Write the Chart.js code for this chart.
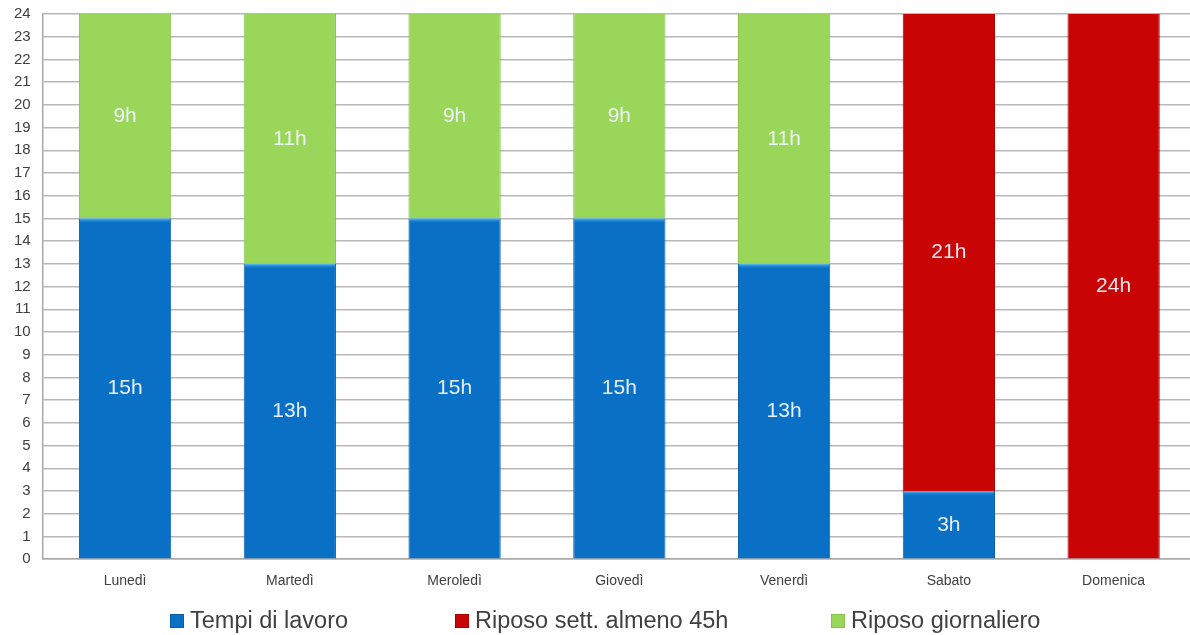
<!DOCTYPE html>
<html>
<head>
<meta charset="utf-8">
<script src="https://cdn.jsdelivr.net/npm/chart.js@4"></script>
<style>
html,body{margin:0;padding:0;background:#fff;overflow:hidden;width:1190px;height:635px;}
#wrap{position:absolute;left:0;top:0;width:1196px;height:635px;}
</style>
</head>
<body>
<div id="wrap"><canvas id="c"></canvas></div>
<script>
const categories = ['Lunedì','Martedì','Meroledì','Giovedì','Venerdì','Sabato','Domenica'];
const tempiLavoro = [15,13,15,15,13,3,0];
const riposoSett = [0,0,0,0,0,21,24];
const riposoGiorn = [9,11,9,9,11,0,0];
const seriesNames = ['Tempi di lavoro','Riposo sett. almeno 45h','Riposo giornaliero'];
const yTicks = Array.from({length:25},(_,i)=>i);

const COLORS = ['#0a70c6','#c80404','#9ad65a'];
const EDGES = ['#0a5ea8','#a80000','#86bf4a'];
const FONT = '"Liberation Sans", Arial, sans-serif';
const LEGEND_X = [170, 455, 831];

const labelPlugin = {
  id:'segLabels',
  afterDatasetsDraw(chart){
    const ctx = chart.ctx;
    ctx.save();
    chart.data.datasets.forEach((ds, di)=>{
      const meta = chart.getDatasetMeta(di);
      meta.data.forEach((bar, i)=>{
        const v = ds.data[i];
        if(!v) return;
        const top = Math.min(bar.y, bar.base), bot = Math.max(bar.y, bar.base);
        if(di===0){
          const g = ctx.createLinearGradient(0, top, 0, top+5);
          g.addColorStop(0,'#5cc0f5'); g.addColorStop(1,'rgba(10,112,198,0)');
          ctx.fillStyle = g;
          ctx.fillRect(bar.x - bar.width/2 + 1, top, bar.width - 2, 5);
        }
        ctx.fillStyle = 'rgba(240,246,252,0.95)';
        ctx.font = '21px ' + FONT;
        ctx.textAlign='center'; ctx.textBaseline='middle';
        ctx.fillText(v + 'h', bar.x, (top+bot)/2);
      });
    });
    ctx.restore();
  },
  afterDraw(chart){
    const ctx = chart.ctx;
    ctx.save();
    ctx.font = '23.5px ' + FONT;
    ctx.textBaseline='alphabetic'; ctx.textAlign='left';
    const base = 628;
    chart.data.datasets.forEach((ds, di)=>{
      const x = LEGEND_X[di];
      ctx.fillStyle = ds.backgroundColor;
      ctx.fillRect(x, base-14, 14, 14);
      ctx.strokeStyle = EDGES[di]; ctx.lineWidth=1;
      ctx.strokeRect(x+0.5, base-13.5, 13, 13);
      ctx.fillStyle = '#404040';
      ctx.fillText(ds.label, x+20, base);
    });
    ctx.restore();
  }
};

new Chart(document.getElementById('c'), {
  type:'bar',
  data:{
    labels: categories,
    datasets:[
      {label:seriesNames[0], data:tempiLavoro, backgroundColor:COLORS[0], borderColor:EDGES[0], borderWidth:{left:1,right:1,top:0,bottom:0}},
      {label:seriesNames[1], data:riposoSett, backgroundColor:COLORS[1], borderColor:EDGES[1], borderWidth:{left:1,right:1,top:0,bottom:0}},
      {label:seriesNames[2], data:riposoGiorn, backgroundColor:COLORS[2], borderColor:EDGES[2], borderWidth:{left:1,right:1,top:0,bottom:0}}
    ]
  },
  options:{
    responsive:true, maintainAspectRatio:false, animation:false,
    layout:{padding:{left:2,right:0,top:0,bottom:31}},
    plugins:{legend:{display:false}, tooltip:{enabled:false}},
    datasets:{bar:{categoryPercentage:1, barPercentage:0.56}},
    scales:{
      x:{stacked:true,
        grid:{display:false, drawTicks:false},
        border:{color:'#a8a8a8', width:1.5},
        ticks:{color:'#404040', font:{family:FONT, size:14}, padding:14}
      },
      y:{stacked:true, min:0, max:24,
        afterBuildTicks(s){ s.ticks = yTicks.map(v=>({value:v})); },
        afterFit(s){ s.paddingTop = 14; },
        grid:{color:'#b8b8b8', lineWidth:1.5, drawTicks:false},
        border:{color:'#a8a8a8', width:1.5},
        ticks:{color:'#404040', font:{family:FONT, size:15}, padding:12, stepSize:1}
      }
    }
  },
  plugins:[labelPlugin]
});
</script>
</body>
</html>
